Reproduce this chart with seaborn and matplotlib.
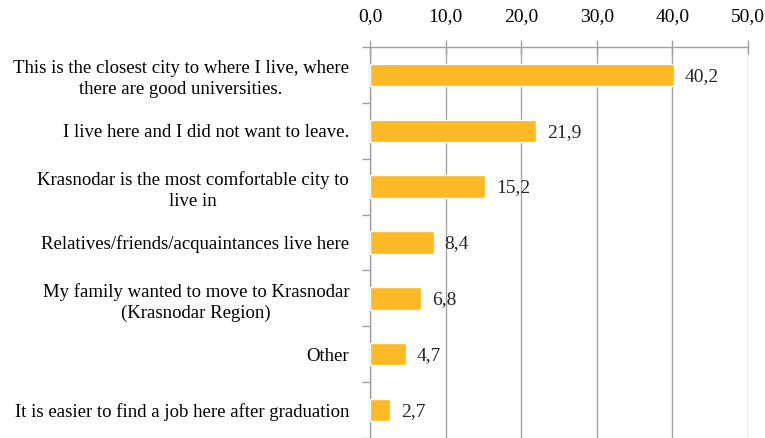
import numpy as np
import pandas as pd
import matplotlib
matplotlib.use('Agg')
import matplotlib.pyplot as plt
import seaborn as sns
from matplotlib.ticker import FuncFormatter, FixedLocator

reasons = ['This is the closest city to where I live, where\nthere are good universities.',
           'I live here and I did not want to leave.',
           'Krasnodar is the most comfortable city to\nlive in',
           'Relatives/friends/acquaintances live here',
           'My family wanted to move to Krasnodar\n(Krasnodar Region)',
           'Other',
           'It is easier to find a job here after graduation']
shares = [40.2, 21.9, 15.2, 8.4, 6.8, 4.7, 2.7]

df = pd.DataFrame({'reason': reasons, 'share': shares})

sns.set_style('white')
plt.rcParams['font.family'] = ['Liberation Serif', 'DejaVu Serif']

fig = plt.figure(figsize=(7.65, 4.38), dpi=100)
ax = fig.add_axes([370/765, 0.0, 378/765, 1 - 47/438])

sns.barplot(data=df, x='share', y='reason', color='#FBBA26', width=0.4,
            saturation=1, ax=ax, zorder=3)

ax.set_xlim(0, 50)
ax.set_ylim(len(reasons) - 0.5, -0.5)
ax.set_xticks(np.arange(0, 51, 10))
ax.xaxis.set_major_formatter(FuncFormatter(lambda v, p: f'{v:.1f}'.replace('.', ',')))
ax.xaxis.tick_top()
ax.tick_params(axis='x', which='major', direction='inout', length=10, width=1,
               color='#a0a0a0', labelsize=14, pad=11, labelcolor='black')
ax.grid(axis='x', color='#a6a6a6', linewidth=1, zorder=0)
ax.set_axisbelow(True)

ax.yaxis.set_minor_locator(FixedLocator(np.arange(-0.5, len(reasons), 1)))
ax.tick_params(axis='y', which='major', length=0, labelsize=13.5, pad=15, labelcolor='black')
ax.tick_params(axis='y', which='minor', length=6, width=1, color='#a0a0a0', direction='out', left=True)
for lab in ax.get_yticklabels():
    lab.set_multialignment('center')
    lab.set_linespacing(1.3)

ax.set_xlabel('')
ax.set_ylabel('')
for s in ['right', 'bottom']:
    ax.spines[s].set_visible(False)
for s in ['top', 'left']:
    ax.spines[s].set_color('#a0a0a0')
    ax.spines[s].set_linewidth(1)

for i, v in enumerate(shares):
    ax.annotate(f'{v:.1f}'.replace('.', ','), (v, i), xytext=(8, -1), textcoords='offset points',
                va='center', ha='left', fontsize=14)

fig.savefig('out.png', dpi=100)
